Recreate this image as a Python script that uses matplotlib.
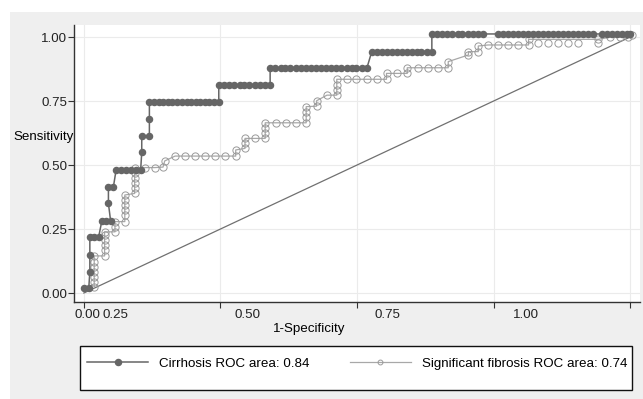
import matplotlib.pyplot as plt
from matplotlib.lines import Line2D
from matplotlib.patches import Rectangle

plt.rcParams['font.family'] = ['Liberation Sans', 'DejaVu Sans']

# Cirrhosis ROC points (1-specificity, sensitivity)
cirr_fpr = [0.000, 0.009, 0.011, 0.011, 0.011, 0.019, 0.027,
            0.033, 0.041, 0.049,
            0.045, 0.045, 0.054,
            0.059, 0.068, 0.077, 0.086, 0.095, 0.104,
            0.106, 0.106, 0.120, 0.120,
            0.120, 0.128, 0.137, 0.145, 0.154, 0.162, 0.171, 0.179,
            0.188, 0.196, 0.205, 0.213, 0.222, 0.230, 0.239, 0.247,
            0.247, 0.256, 0.266, 0.275, 0.285, 0.294, 0.303, 0.313, 0.322, 0.332, 0.341,
            0.341, 0.350, 0.360, 0.369, 0.378, 0.388, 0.397, 0.406, 0.416, 0.425,
            0.434, 0.443, 0.453, 0.462, 0.471, 0.481, 0.490, 0.499, 0.509, 0.518,
            0.527, 0.536, 0.545, 0.554, 0.564, 0.573, 0.582, 0.591, 0.600, 0.609,
            0.618, 0.628, 0.637,
            0.637, 0.646, 0.656, 0.665, 0.674, 0.684, 0.693, 0.703, 0.712, 0.721, 0.731,
            0.758, 0.767, 0.776, 0.786, 0.795, 0.804, 0.813, 0.822, 0.831, 0.840,
            0.850, 0.859, 0.868, 0.877, 0.886, 0.895, 0.904, 0.914, 0.923, 0.932,
            0.949, 0.958, 0.967, 0.976, 0.985, 0.994, 1.000]
cirr_tpr = [0.018, 0.018, 0.083, 0.148, 0.218, 0.218, 0.218,
            0.282, 0.282, 0.282,
            0.350, 0.413, 0.413,
            0.480, 0.480, 0.480, 0.480, 0.480, 0.480,
            0.550, 0.613, 0.613, 0.680,
            0.745, 0.745, 0.745, 0.745, 0.745, 0.745, 0.745, 0.745,
            0.745, 0.745, 0.745, 0.745, 0.745, 0.745, 0.745, 0.745,
            0.812, 0.812, 0.812, 0.812, 0.812, 0.812, 0.812, 0.812, 0.812, 0.812, 0.812,
            0.878, 0.878, 0.878, 0.878, 0.878, 0.878, 0.878, 0.878, 0.878, 0.878,
            0.878, 0.878, 0.878, 0.878, 0.878, 0.878, 0.878, 0.878, 0.878, 0.878,
            0.943, 0.943, 0.943, 0.943, 0.943, 0.943, 0.943, 0.943, 0.943, 0.943,
            0.943, 0.943, 0.943,
            1.012, 1.012, 1.012, 1.012, 1.012, 1.012, 1.012, 1.012, 1.012, 1.012, 1.012,
            1.012, 1.012, 1.012, 1.012, 1.012, 1.012, 1.012, 1.012, 1.012, 1.012,
            1.012, 1.012, 1.012, 1.012, 1.012, 1.012, 1.012, 1.012, 1.012, 1.012,
            1.012, 1.012, 1.012, 1.012, 1.012, 1.012, 1.012]

# Significant fibrosis ROC points
fib_fpr = [0.019, 0.019, 0.019, 0.019, 0.019, 0.019, 0.019,
           0.038, 0.038, 0.038, 0.038, 0.038, 0.038,
           0.057, 0.057, 0.057,
           0.075, 0.075, 0.075, 0.075, 0.075, 0.075,
           0.093, 0.093, 0.093, 0.093, 0.093, 0.093,
           0.112, 0.130, 0.145,
           0.148, 0.167, 0.185, 0.203, 0.222, 0.240, 0.258, 0.278,
           0.278, 0.295, 0.295, 0.295, 0.313, 0.332, 0.332, 0.332, 0.332,
           0.352, 0.370, 0.388, 0.407, 0.407, 0.407, 0.407,
           0.426, 0.426, 0.445, 0.463, 0.463, 0.463, 0.463,
           0.481, 0.499, 0.518, 0.536, 0.554, 0.554, 0.574, 0.592, 0.592,
           0.612, 0.630, 0.648, 0.667, 0.667, 0.704, 0.704, 0.722, 0.722,
           0.740, 0.758, 0.777, 0.795, 0.814, 0.814, 0.941, 0.963, 0.982, 0.996, 1.004]
fib_tpr = [0.025, 0.044, 0.064, 0.083, 0.103, 0.122, 0.145,
           0.145, 0.168, 0.188, 0.209, 0.227, 0.239,
           0.239, 0.259, 0.279,
           0.279, 0.305, 0.324, 0.344, 0.363, 0.383,
           0.389, 0.409, 0.428, 0.448, 0.468, 0.487,
           0.490, 0.490, 0.492,
           0.516, 0.535, 0.535, 0.535, 0.535, 0.535, 0.535, 0.535,
           0.559, 0.565, 0.585, 0.604, 0.604, 0.604, 0.625, 0.645, 0.665,
           0.665, 0.665, 0.665, 0.665, 0.689, 0.708, 0.728,
           0.730, 0.751, 0.773, 0.773, 0.794, 0.814, 0.835,
           0.835, 0.835, 0.835, 0.835, 0.835, 0.858, 0.858, 0.858, 0.880,
           0.880, 0.880, 0.880, 0.880, 0.904, 0.930, 0.943, 0.943, 0.965,
           0.969, 0.969, 0.969, 0.969, 0.969, 0.991, 0.991, 0.999, 0.999, 0.999, 1.008]
# fibrosis points drawn without a connecting line
fib_loose_fpr = [0.832, 0.850, 0.868, 0.886, 0.905, 0.941]
fib_loose_tpr = [0.977, 0.977, 0.977, 0.977, 0.977, 0.977]

ref_line = [0, 1]
ticks = [0, 0.25, 0.5, 0.75, 1]
tick_labels = ['0.00', '0.25', '0.50', '0.75', '1.00']
# the x labels sit off their ticks in the original
xlabel_pos = [0.006, 0.058, 0.300, 0.555, 0.810]

dark = '#666666'
light = '#9a9a9a'
fs = 9.6

fig = plt.figure(figsize=(6.43, 3.99), dpi=100)
fig.patches.append(Rectangle((10 / 643, 0), 1, 387 / 399, transform=fig.transFigure,
                             facecolor='#efefef', edgecolor='none', zorder=-2))
ax = fig.add_axes([74 / 643, 97 / 399, 566 / 643, 277 / 399])
ax.set_facecolor('white')

ax.plot(ref_line, ref_line, color='#707070', lw=0.9, zorder=2)
ax.plot(fib_fpr, fib_tpr, color='#a8a8a8', lw=0.9, marker='o', ms=5.2,
        mfc='none', mec=light, mew=0.7, zorder=3)
ax.plot(fib_loose_fpr, fib_loose_tpr, ls='none', marker='o', ms=5.2,
        mfc='none', mec=light, mew=0.7, zorder=3)
ax.plot(cirr_fpr, cirr_tpr, color=dark, lw=1.1, marker='o', ms=4.4,
        mfc=dark, mec=dark, zorder=4)

ax.set_xlim(-0.018, 1.018)
ax.set_ylim(-0.035, 1.047)

ax.set_xticks(ticks)
ax.set_xticklabels([])
ax.set_xticks(xlabel_pos, minor=True)
ax.set_xticklabels(tick_labels, minor=True)
ax.tick_params(axis='x', which='minor', length=0, pad=5, labelsize=fs, labelcolor='#222222')
ax.tick_params(axis='x', which='major', length=4, width=0.8, color='#333333')
ax.set_yticks(ticks)
ax.set_yticklabels(tick_labels)
ax.tick_params(axis='y', length=4.3, width=0.8, pad=0.5, labelsize=fs,
               color='#333333', labelcolor='#222222')

ax.grid(True, which='major', color='#ebebeb', lw=0.8)
ax.set_axisbelow(True)
for side in ['top', 'right']:
    ax.spines[side].set_visible(False)
for side in ['left', 'bottom']:
    ax.spines[side].set_color('#333333')
    ax.spines[side].set_linewidth(1.0)

ax.set_ylabel('Sensitivity', rotation=0, ha='right', va='center', fontsize=fs)
ax.yaxis.set_label_coords(0.0, 0.597)
ax.set_xlabel('1-Specificity', va='center', fontsize=fs)
ax.xaxis.set_label_coords(0.415, -0.097)

# legend frame
fig.patches.append(Rectangle((80 / 643, 9 / 399), 552 / 643, 44 / 399, transform=fig.transFigure,
                             facecolor='white', edgecolor='#111111', lw=1.0, zorder=1))
handles = [Line2D([], [], color=dark, lw=1.1, marker='o', ms=4.4, mfc=dark, mec=dark),
           Line2D([], [], color='#a8a8a8', lw=0.9, marker='o', ms=3.5, mfc='none', mec=light, mew=0.7)]
labels = ['Cirrhosis ROC area: 0.84', 'Significant fibrosis ROC area: 0.74']
fig.legend(handles, labels, ncol=2, frameon=False, loc='center left',
           bbox_to_anchor=(87 / 643, 1 - 364 / 399), borderaxespad=0, borderpad=0,
           handlelength=4.6, handletextpad=0.83, columnspacing=3.0, fontsize=fs,
           numpoints=1)

fig.savefig('out.png', dpi=100)
